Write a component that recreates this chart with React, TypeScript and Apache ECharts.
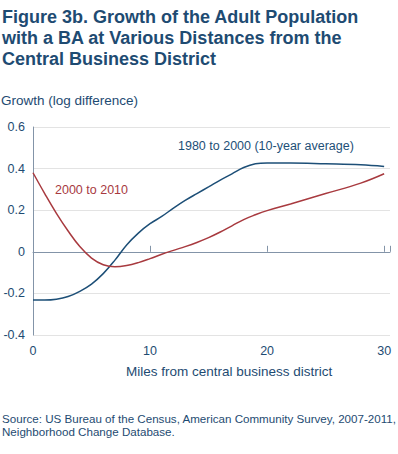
import React, { useEffect, useRef } from "react";
import * as echarts from "echarts";

const miles = [0, 1, 2, 3, 4, 5, 6, 7, 8, 9, 10, 11, 12, 13, 14, 15, 16, 17, 18, 19, 20, 22, 25, 28, 30];
const growth1980to2000 = [-0.232, -0.232, -0.228, -0.215, -0.19, -0.155, -0.105, -0.04, 0.033, 0.09, 0.135, 0.17, 0.21, 0.247, 0.28, 0.312, 0.345, 0.375, 0.405, 0.423, 0.427, 0.427, 0.423, 0.418, 0.41];
const growth2000to2010 = [0.38, 0.28, 0.185, 0.1, 0.025, -0.03, -0.062, -0.072, -0.066, -0.052, -0.033, -0.012, 0.007, 0.025, 0.045, 0.068, 0.095, 0.125, 0.155, 0.178, 0.198, 0.23, 0.28, 0.33, 0.375];
const xTicks = [0, 10, 20, 30];
const yTicks = [-0.4, -0.2, 0, 0.2, 0.4, 0.6];

const titleLines = [
  "Figure 3b. Growth of the Adult Population",
  "with a BA at Various Distances from the",
  "Central Business District",
];
const yAxisTitle = "Growth (log difference)";
const xAxisTitle = "Miles from central business district";
const label1980 = "1980 to 2000 (10-year average)";
const label2000 = "2000 to 2010";
const sourceLines = [
  "Source: US Bureau of the Census, American Community Survey, 2007-2011,",
  "Neighborhood Change Database.",
];

const BLUE = "#1d4f77";
const RED = "#a83a3f";
const TEXT = "#1e4b72";
const FONT = "'Liberation Sans', Arial, sans-serif";

export default function App() {
  const ref = useRef<HTMLDivElement>(null);
  useEffect(() => {
    if (!ref.current) return;
    const chart = echarts.init(ref.current, undefined, { renderer: "svg" });
    const fmt = (v: number) => {
      if (Math.abs(v) < 1e-9) return "0";
      return String(Math.round(v * 10) / 10);
    };
    chart.setOption({
      animation: false,
      grid: { left: 33, right: 8, top: 127, bottom: 119, containLabel: false },
      xAxis: {
        type: "value",
        min: 0,
        max: 30.5,
        interval: 10,
        axisLine: { show: true, lineStyle: { color: "#8394a8", width: 1 } },
        axisTick: { show: true, inside: true, length: 6, lineStyle: { color: "#8394a8" } },
        splitLine: { show: false },
        axisLabel: {
          color: TEXT,
          fontFamily: FONT,
          fontSize: 12.5,
          margin: 9,
          formatter: (v: number) => (xTicks.includes(v) ? String(v) : ""),
        },
      },
      yAxis: {
        type: "value",
        min: yTicks[0],
        max: yTicks[yTicks.length - 1],
        interval: 0.2,
        axisLine: { show: true, lineStyle: { color: "#8394a8", width: 1 } },
        axisTick: { show: false },
        splitLine: { show: true, lineStyle: { color: "#e3e3e3", width: 1 } },
        axisLabel: {
          color: TEXT,
          fontFamily: FONT,
          fontSize: 12.5,
          margin: 8,
          formatter: fmt,
        },
      },
      series: [
        {
          type: "line",
          name: label1980,
          data: miles.map((m, i) => [m, growth1980to2000[i]]),
          smooth: 0.4,
          showSymbol: false,
          lineStyle: { color: BLUE, width: 1.5 },
          itemStyle: { color: BLUE },
        },
        {
          type: "line",
          name: label2000,
          data: miles.map((m, i) => [m, growth2000to2010[i]]),
          smooth: 0.4,
          showSymbol: false,
          lineStyle: { color: RED, width: 1.5 },
          itemStyle: { color: RED },
        },
      ],
      graphic: [
        ...titleLines.map((t, i) => ({
          type: "text",
          left: 2,
          top: 8 + i * 21,
          style: { text: t, fill: TEXT, font: `bold 18px ${FONT}` },
        })),
        {
          type: "text",
          left: 1,
          top: 93,
          style: { text: yAxisTitle, fill: TEXT, font: `13.5px ${FONT}` },
        },
        {
          type: "text",
          left: 178,
          top: 139,
          style: { text: label1980, fill: BLUE, font: `12.5px ${FONT}` },
        },
        {
          type: "text",
          left: 55,
          top: 183,
          style: { text: label2000, fill: RED, font: `12.5px ${FONT}` },
        },
        {
          type: "text",
          left: 126,
          top: 364,
          style: { text: xAxisTitle, fill: TEXT, font: `13.5px ${FONT}` },
        },
        ...sourceLines.map((t, i) => ({
          type: "text",
          left: 2,
          top: 412 + i * 13.5,
          style: { text: t, fill: TEXT, font: `11.6px ${FONT}` },
        })),
      ],
    });
    return () => chart.dispose();
  }, []);
  return (
    <div
      ref={ref}
      style={{ position: "absolute", left: 0, top: 0, width: 398, height: 454, background: "#fff" }}
    />
  );
}
